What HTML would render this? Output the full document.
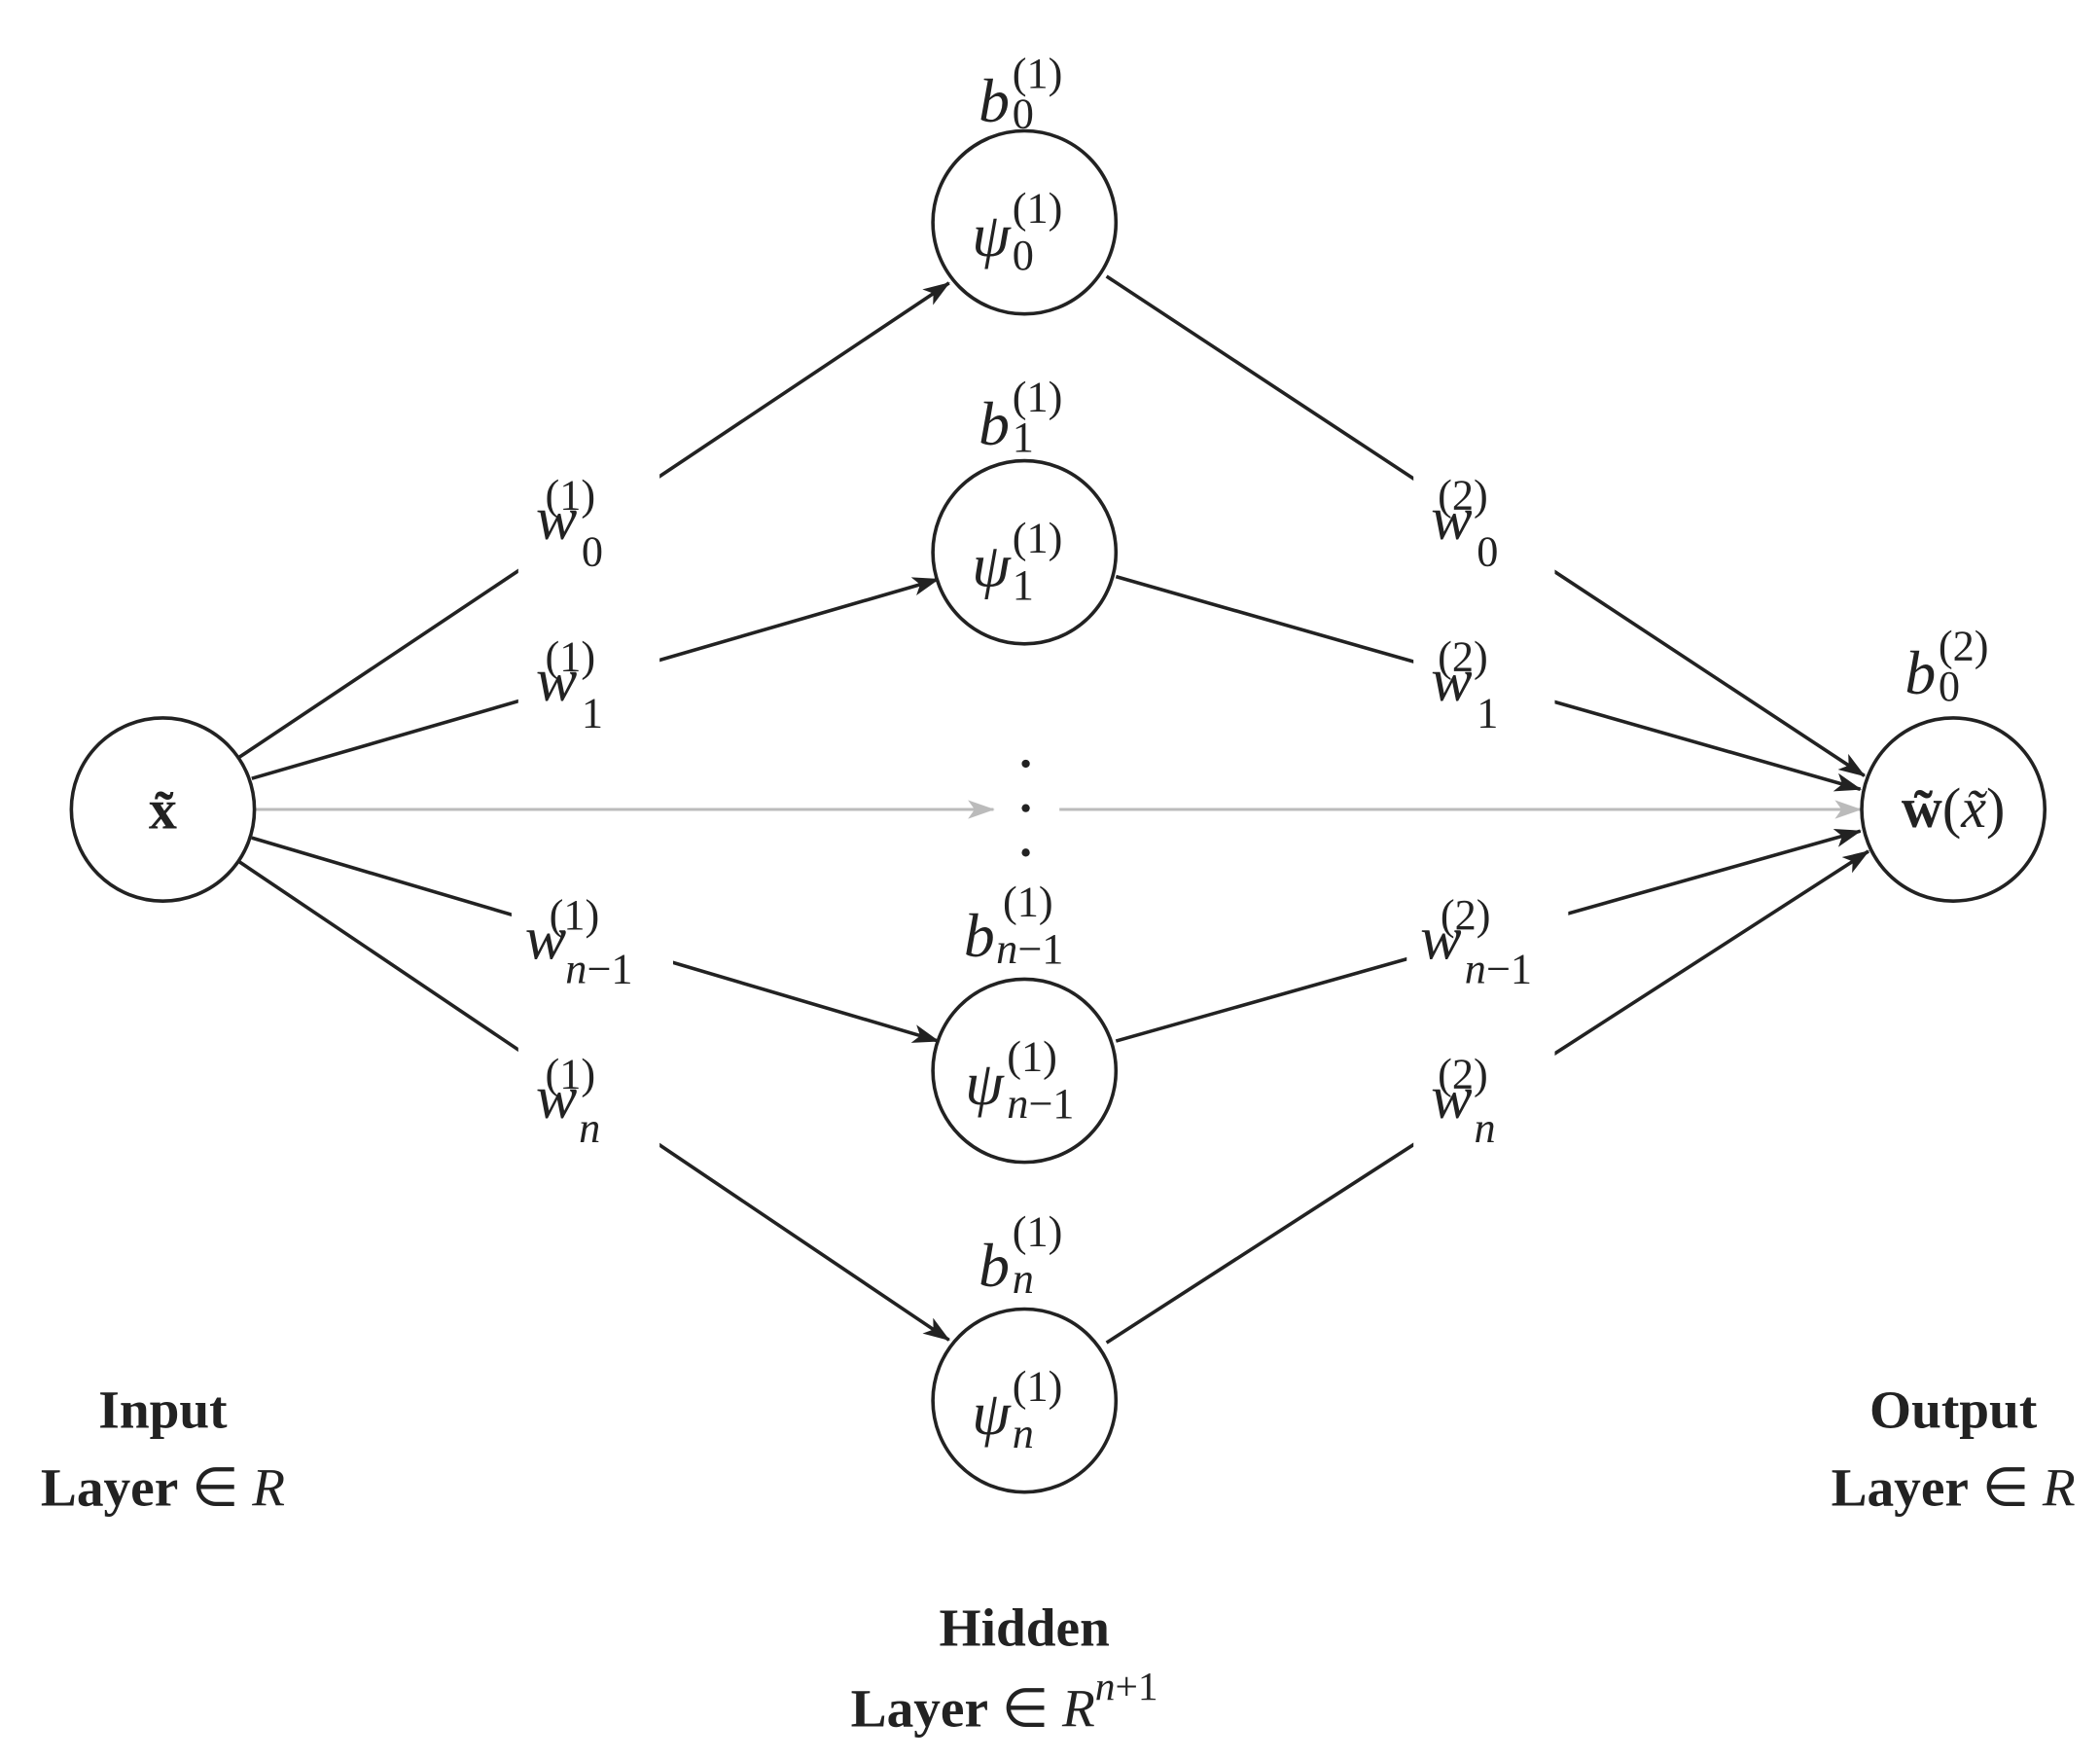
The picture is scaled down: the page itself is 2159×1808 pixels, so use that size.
<!DOCTYPE html>
<html><head><meta charset="utf-8"><style>html,body{margin:0;padding:0;background:#fff}svg{display:block}</style></head><body>
<svg width="2159" height="1808" viewBox="0 0 1560 1306" xmlns="http://www.w3.org/2000/svg" font-family="Liberation Serif, serif" fill="#222">
<defs>
<marker id="a" viewBox="0 0 20 14" refX="19" refY="7" markerWidth="20" markerHeight="14" markerUnits="userSpaceOnUse" orient="auto"><path d="M0,0 L20,7 L0,14 L5,7 Z" fill="#222"/></marker>
<marker id="g" viewBox="0 0 20 14" refX="19" refY="7" markerWidth="20" markerHeight="14" markerUnits="userSpaceOnUse" orient="auto"><path d="M0,0 L20,7 L0,14 L5,7 Z" fill="#bbb"/></marker>
</defs>
<g stroke="#222" stroke-width="2.6" fill="none">
<line x1="178" y1="562" x2="705" y2="210" marker-end="url(#a)"/>
<line x1="187" y1="578" x2="697" y2="430" marker-end="url(#a)"/>
<line x1="187" y1="622" x2="697" y2="773" marker-end="url(#a)"/>
<line x1="178" y1="640" x2="705" y2="995" marker-end="url(#a)"/>
<line x1="822" y1="205" x2="1385" y2="576" marker-end="url(#a)"/>
<line x1="829" y1="428" x2="1382" y2="586" marker-end="url(#a)"/>
<line x1="829" y1="773" x2="1382" y2="617" marker-end="url(#a)"/>
<line x1="822" y1="997" x2="1388" y2="632" marker-end="url(#a)"/>
</g>
<g stroke="#bbb" stroke-width="2.2">
<line x1="190" y1="601" x2="738" y2="601" marker-end="url(#g)"/>
<line x1="787" y1="601" x2="1382" y2="601" marker-end="url(#g)"/>
</g>
<g fill="#fff">
<rect x="385" y="340" width="105" height="90"/>
<rect x="385" y="462" width="105" height="85"/>
<rect x="380" y="655" width="120" height="85"/>
<rect x="385" y="775" width="105" height="85"/>
<rect x="1050" y="340" width="105" height="90"/>
<rect x="1050" y="462" width="105" height="85"/>
<rect x="1045" y="655" width="120" height="85"/>
<rect x="1050" y="775" width="105" height="85"/>
</g>
<g stroke="#222" stroke-width="2.6" fill="#fff">
<circle cx="121" cy="601" r="68"/>
<circle cx="761" cy="165" r="68"/>
<circle cx="761" cy="410" r="68"/>
<circle cx="761" cy="795" r="68"/>
<circle cx="761" cy="1040" r="68"/>
<circle cx="1451" cy="601" r="68"/>
</g>
<g font-size="40">
<circle cx="762" cy="567" r="3"/><circle cx="762" cy="600" r="3"/><circle cx="762" cy="633" r="3"/>
<text x="121" y="615" text-anchor="middle" font-weight="bold" font-size="42">x̃</text>
<text x="1451" y="614" text-anchor="middle" font-size="42"><tspan font-weight="bold">w̃</tspan>(<tspan font-style="italic">x̃</tspan>)</text>
</g>
<!-- weight labels -->
<g font-size="46" font-style="italic">
<text x="398" y="400">w</text><text x="398" y="520">w</text><text x="390" y="712">w</text><text x="398" y="830">w</text>
<text x="1063" y="400">w</text><text x="1063" y="520">w</text><text x="1055" y="712">w</text><text x="1063" y="830">w</text>
<text x="727" y="90">b</text><text x="727" y="330">b</text><text x="716" y="710">b</text><text x="727" y="955">b</text><text x="1415" y="515">b</text>
<text x="722" y="190">ψ</text><text x="722" y="435">ψ</text><text x="717" y="820">ψ</text><text x="722" y="1065">ψ</text>
</g>
<g font-size="32">
<text x="405" y="378">(1)</text><text x="405" y="498">(1)</text><text x="408" y="690">(1)</text><text x="405" y="808">(1)</text>
<text x="1068" y="378">(2)</text><text x="1068" y="498">(2)</text><text x="1070" y="690">(2)</text><text x="1068" y="808">(2)</text>
<text x="752" y="65">(1)</text><text x="752" y="305">(1)</text><text x="745" y="680">(1)</text><text x="752" y="925">(1)</text><text x="1440" y="490">(2)</text>
<text x="752" y="165">(1)</text><text x="752" y="410">(1)</text><text x="748" y="795">(1)</text><text x="752" y="1040">(1)</text>
<text x="432" y="420">0</text><text x="432" y="540">1</text><text x="420" y="730" font-style="italic">n<tspan font-style="normal">−1</tspan></text><text x="430" y="848" font-style="italic">n</text>
<text x="1097" y="420">0</text><text x="1097" y="540">1</text><text x="1088" y="730" font-style="italic">n<tspan font-style="normal">−1</tspan></text><text x="1095" y="848" font-style="italic">n</text>
<text x="752" y="95">0</text><text x="752" y="335">1</text><text x="740" y="715" font-style="italic">n<tspan font-style="normal">−1</tspan></text><text x="752" y="960" font-style="italic">n</text><text x="1440" y="520">0</text>
<text x="752" y="200">0</text><text x="752" y="445">1</text><text x="748" y="830" font-style="italic">n<tspan font-style="normal">−1</tspan></text><text x="752" y="1075" font-style="italic">n</text>
</g>
<g font-size="40" text-anchor="middle">
<text x="121" y="1060" font-weight="bold">Input</text>
<text x="121" y="1118"><tspan font-weight="bold">Layer</tspan> ∈ <tspan font-style="italic">R</tspan></text>
<text x="1451" y="1060" font-weight="bold">Output</text>
<text x="1451" y="1118"><tspan font-weight="bold">Layer</tspan> ∈ <tspan font-style="italic">R</tspan></text>
<text x="761" y="1222" font-weight="bold">Hidden</text>
</g>
<text x="632" y="1282" font-size="40"><tspan font-weight="bold">Layer</tspan> ∈ <tspan font-style="italic">R</tspan><tspan font-size="30" dy="-20"><tspan font-style="italic">n</tspan>+1</tspan></text>
</svg>
</body></html>
